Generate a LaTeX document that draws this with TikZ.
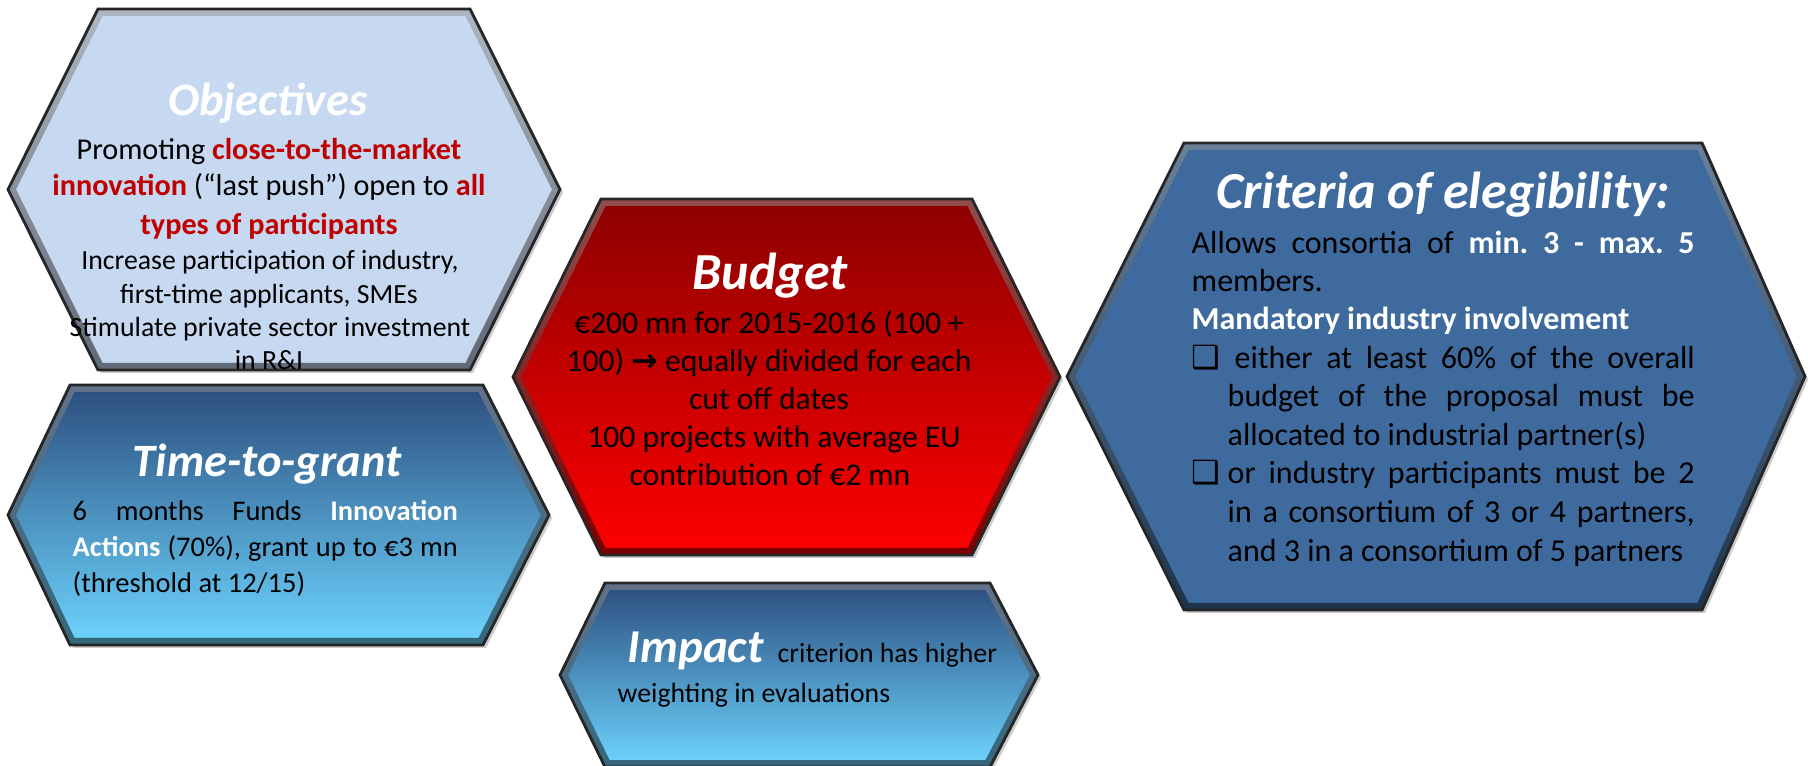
\documentclass[tikz,border=0pt]{standalone}
\usepackage{fontspec}
\setmainfont{Carlito}
\newfontfamily\dingfont{DejaVu Sans}
\usepackage{tikz}
\usetikzlibrary{shadows}
\frenchspacing

\definecolor{paleblue}{HTML}{C6D9F1}
\definecolor{steelblue}{HTML}{3E6A9D}
\definecolor{navyblue}{HTML}{2B4D7E}
\definecolor{skyblue}{HTML}{6DD5FF}
\definecolor{darkred}{HTML}{8C0000}
\definecolor{brightred}{HTML}{FF0000}
\definecolor{keyred}{HTML}{C00000}

%% hexagon: fill options, left x, top-left x, top-right x, right x, top y, bottom y
\newcommand{\hexbox}[7]{%
  \path[hexa,#1] (#2,{(#6+#7)/2}) -- (#3,#6) -- (#4,#6) -- (#5,{(#6+#7)/2}) -- (#4,#7) -- (#3,#7) -- cycle;
  \fill[bevel] (#2,{(#6+#7)/2}) -- (#3,#6) -- (#4,#6) -- (#5,{(#6+#7)/2}) -- (#4,#7) -- (#3,#7) -- cycle
    ({#2+0.08},{(#6+#7)/2}) -- ({#3+0.045},{#6-0.07}) -- ({#4-0.045},{#6-0.07}) -- ({#5-0.08},{(#6+#7)/2}) -- ({#4-0.045},{#7+0.07}) -- ({#3+0.045},{#7+0.07}) -- cycle;
  \draw[edge] (#2,{(#6+#7)/2}) -- (#3,#6) -- (#4,#6) -- (#5,{(#6+#7)/2}) -- (#4,#7) -- (#3,#7) -- cycle;
}

\begin{document}
\begin{tikzpicture}[
  hexa/.style={drop shadow={opacity=0.4,shadow xshift=0.03,shadow yshift=-0.03}},
  bevel/.style={even odd rule,top color=white,bottom color=black,opacity=0.3},
  edge/.style={draw=black!85,line width=0.8pt,line join=miter},
  title/.style={inner sep=0pt,anchor=base,text=white,font=\bfseries\itshape\fontsize{13.2}{16}\selectfont},
  bigtitle/.style={title,font=\bfseries\itshape\fontsize{14.8}{18}\selectfont},
  line/.style={inner sep=0pt,anchor=base},
  leftline/.style={inner sep=0pt,anchor=base west}
]
\useasboundingbox (0,0) rectangle (18.08,-7.66);
%%Objectives
\hexbox{fill=paleblue}{0.08}{0.98}{4.70}{5.60}{-0.09}{-3.70}
\node[title] (objtitle) at (2.68,-1.16) {Objectives};
\node[line,font=\fontsize{8.6}{10.5}\selectfont] (obj1) at (2.69,-1.60) {Promoting \textcolor{keyred}{\textbf{close-to-the-market}}};
\node[line,font=\fontsize{8.6}{10.5}\selectfont] (obj2) at (2.69,-1.96) {\textcolor{keyred}{\textbf{innovation}} (“last push”) open to \textcolor{keyred}{\textbf{all}}};
\node[line,font=\fontsize{8.6}{10.5}\selectfont] (obj3) at (2.69,-2.35) {\textcolor{keyred}{\textbf{types of participants}}};
\node[line,font=\fontsize{7.9}{9.4}\selectfont] (obj4) at (2.70,-2.70) {Increase participation of industry,};
\node[line,font=\fontsize{7.9}{9.4}\selectfont] (obj5) at (2.69,-3.04) {first-time applicants, SMEs};
\node[line,font=\fontsize{7.9}{9.4}\selectfont] (obj6) at (2.70,-3.37) {Stimulate private sector investment};
\node[line,font=\fontsize{7.9}{9.4}\selectfont] (obj7) at (2.69,-3.70) {in R\&I};

%%Time-to-grant
\hexbox{top color=navyblue,bottom color=skyblue}{0.08}{0.70}{4.83}{5.49}{-3.85}{-6.45}
\node[title] (timetitle) at (2.67,-4.77) {Time-to-grant};
\node[leftline,font=\fontsize{8.1}{10}\selectfont] (time1) at (0.72,-5.21) {\makebox[3.85cm][s]{6 months Funds \textcolor{white}{\textbf{Innovation}}}};
\node[leftline,font=\fontsize{8.1}{10}\selectfont] (time2) at (0.72,-5.57) {\makebox[3.85cm][s]{\textcolor{white}{\textbf{Actions}} (70\%), grant up to €3 mn}};
\node[leftline,font=\fontsize{8.1}{10}\selectfont] (time3) at (0.72,-5.93) {(threshold at 12/15)};

%%Budget
\hexbox{top color=darkred,bottom color=brightred}{5.13}{6.01}{9.72}{10.60}{-1.99}{-5.55}
\node[bigtitle] (budtitle) at (7.70,-2.90) {Budget};
\node[line,font=\fontsize{9}{11}\selectfont] (bud1) at (7.69,-3.34) {€200 mn for 2015-2016 (100 +};
\node[line,font=\fontsize{9}{11}\selectfont] (bud2) at (7.69,-3.72) {100) {\dingfont\bfseries →} equally divided for each};
\node[line,font=\fontsize{9}{11}\selectfont] (bud3) at (7.69,-4.10) {cut off dates};
\node[line,font=\fontsize{9}{11}\selectfont] (bud4) at (7.74,-4.48) {100 projects with average EU};
\node[line,font=\fontsize{9}{11}\selectfont] (bud5) at (7.70,-4.86) {contribution of €2 mn};

%%Impact
\hexbox{top color=navyblue,bottom color=skyblue}{5.60}{6.05}{9.90}{10.38}{-5.83}{-7.67}
\node[title,anchor=base west,font=\bfseries\itshape\fontsize{13.4}{16}\selectfont] (imptitle) at (6.27,-6.63) {Impact};
\node[leftline,font=\fontsize{7.9}{9.4}\selectfont] (imp1) at (7.77,-6.63) {criterion has higher};
\node[leftline,font=\fontsize{7.9}{9.4}\selectfont] (imp2) at (6.17,-7.03) {weighting in evaluations};

%%Criteria
\hexbox{fill=steelblue}{10.67}{11.84}{17.02}{18.05}{-1.43}{-6.10}
\node[bigtitle] (crittitle) at (14.43,-2.09) {Criteria of elegibility:};
\node[leftline,font=\fontsize{9.1}{11}\selectfont] (crit1) at (11.91,-2.54) {\makebox[5.03cm][s]{Allows consortia of \textcolor{white}{\textbf{min. 3 - max. 5}}}};
\node[leftline,font=\fontsize{9.1}{11}\selectfont] (crit2) at (11.91,-2.92) {members.};
\node[leftline,font=\fontsize{9.1}{11}\selectfont,text=white] (crit3) at (11.91,-3.30) {\textbf{Mandatory industry involvement}};
\node[leftline,font=\fontsize{9.1}{11}\selectfont] (box1) at (11.91,-3.69) {\dingfont ❑};
\node[leftline,font=\fontsize{9.1}{11}\selectfont] (crit4) at (12.34,-3.69) {\makebox[4.60cm][s]{either at least 60\% of the overall}};
\node[leftline,font=\fontsize{9.1}{11}\selectfont] (crit5) at (12.27,-4.07) {\makebox[4.67cm][s]{budget of the proposal must be}};
\node[leftline,font=\fontsize{9.1}{11}\selectfont] (crit6) at (12.27,-4.46) {allocated to industrial partner(s)};
\node[leftline,font=\fontsize{9.1}{11}\selectfont] (box2) at (11.91,-4.84) {\dingfont ❑};
\node[leftline,font=\fontsize{9.1}{11}\selectfont] (crit7) at (12.27,-4.84) {\makebox[4.67cm][s]{or industry participants must be 2}};
\node[leftline,font=\fontsize{9.1}{11}\selectfont] (crit8) at (12.27,-5.23) {\makebox[4.67cm][s]{in a consortium of 3 or 4 partners,}};
\node[leftline,font=\fontsize{9.1}{11}\selectfont] (crit9) at (12.27,-5.62) {and 3 in a consortium of 5 partners};
\end{tikzpicture}
\end{document}
